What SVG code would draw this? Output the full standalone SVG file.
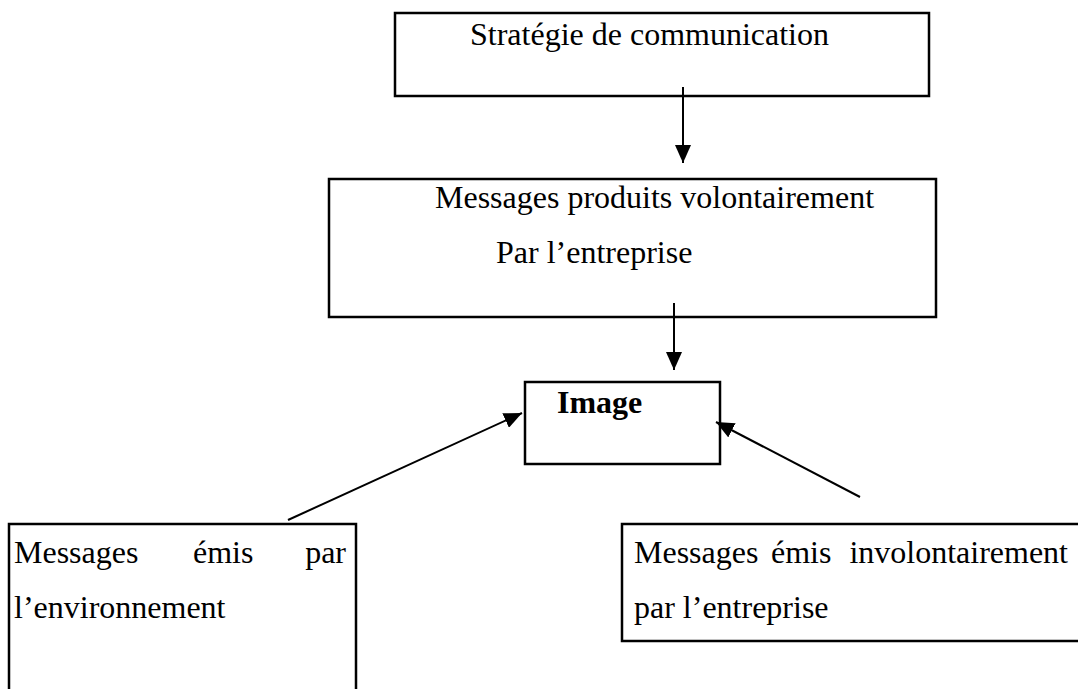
<svg xmlns="http://www.w3.org/2000/svg" width="1078" height="689" viewBox="0 0 1078 689">
<style>
.box{fill:#fff;stroke:#000;stroke-width:2.5}
.t{font-family:"Liberation Serif","Times New Roman",serif;font-size:32px;fill:#000}
.b{font-weight:bold}
.c{stroke:#000;stroke-width:2;fill:none}
</style>
<defs>
<marker id="ah" markerUnits="userSpaceOnUse" markerWidth="20" markerHeight="16" viewBox="0 0 20 16" refX="18" refY="8" orient="auto">
<path d="M0,0 L18,8 L0,16 Z" fill="#000"/>
</marker>
</defs>
<rect width="1078" height="689" fill="#fff"/>
<g id="strategie">
<rect class="box" x="395" y="13" width="534" height="83"/>
<text class="t" x="470" y="45">Stratégie de communication</text>
</g>
<g id="messages-volontaires">
<rect class="box" x="329" y="179" width="607" height="138"/>
<text class="t" x="435" y="208">Messages produits volontairement</text>
<text class="t" x="496" y="263">Par l’entreprise</text>
</g>
<g id="image">
<rect class="box" x="525" y="382" width="195" height="82"/>
<text class="t b" x="557" y="413">Image</text>
</g>
<g id="messages-environnement">
<rect class="box" x="9" y="524" width="347" height="180"/>
<text class="t" x="14" y="563">Messages</text>
<text class="t" x="193" y="563">émis</text>
<text class="t" x="346" y="563" text-anchor="end">par</text>
<text class="t" x="14" y="618">l’environnement</text>
</g>
<g id="messages-involontaires">
<rect class="box" x="622" y="524" width="470" height="117"/>
<text class="t" x="634" y="563">Messages</text>
<text class="t" x="771" y="563">émis</text>
<text class="t" x="1068" y="563" text-anchor="end">involontairement</text>
<text class="t" x="634" y="618">par l’entreprise</text>
</g>
<g id="connectors">
<line class="c" x1="683" y1="87" x2="683" y2="163" marker-end="url(#ah)"/>
<line class="c" x1="674" y1="303" x2="674" y2="370" marker-end="url(#ah)"/>
<line class="c" x1="288" y1="520" x2="522" y2="413" marker-end="url(#ah)"/>
<line class="c" x1="860" y1="497" x2="716" y2="422" marker-end="url(#ah)"/>
</g>
</svg>
